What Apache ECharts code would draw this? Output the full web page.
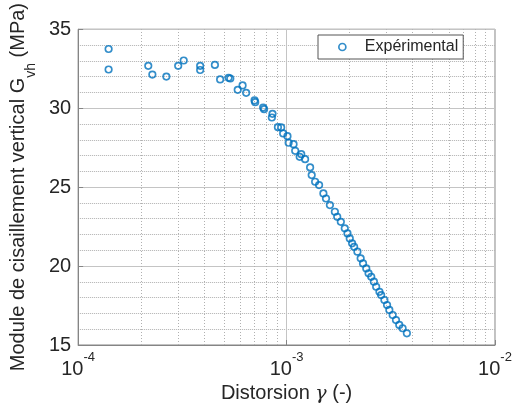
<!DOCTYPE html>
<html>
<head>
<meta charset="utf-8">
<script src="https://cdn.jsdelivr.net/npm/echarts@6/dist/echarts.min.js"></script>
<style>html,body{margin:0;padding:0;background:#fff;}#c{width:520px;height:412px;}</style>
</head>
<body>
<div id="c"></div>
<script>
// Data
const gammaValues = [
  1.40e-4, 1.40e-4, 2.17e-4, 2.27e-4, 2.65e-4, 3.02e-4, 3.21e-4, 3.85e-4, 3.85e-4, 4.53e-4,
  4.80e-4, 5.27e-4, 5.37e-4, 5.83e-4, 6.15e-4, 6.40e-4, 7.02e-4, 7.07e-4, 7.72e-4, 7.80e-4,
  8.56e-4, 8.50e-4, 9.09e-4, 9.42e-4, 9.63e-4, 1.010e-3, 1.023e-3, 1.080e-3, 1.100e-3, 1.156e-3,
  1.176e-3, 1.227e-3, 1.297e-3, 1.320e-3, 1.371e-3, 1.432e-3, 1.502e-3, 1.546e-3, 1.614e-3, 1.705e-3,
  1.750e-3, 1.821e-3, 1.902e-3, 1.960e-3, 2.010e-3, 2.063e-3, 2.109e-3, 2.187e-3, 2.267e-3, 2.327e-3,
  2.412e-3, 2.474e-3, 2.548e-3, 2.624e-3, 2.691e-3, 2.790e-3, 2.842e-3, 2.947e-3, 3.035e-3, 3.112e-3,
  3.229e-3, 3.349e-3, 3.473e-3, 3.603e-3, 3.777e-3
];
const gvhValues = [
  33.75, 32.45, 32.68, 32.13, 32.00, 32.68, 33.02, 32.68, 32.42, 32.74,
  31.82, 31.92, 31.88, 31.16, 31.44, 30.97, 30.49, 30.38, 30.04, 29.94,
  29.64, 29.41, 28.80, 28.78, 28.40, 28.23, 27.81, 27.72, 27.30, 26.92,
  27.09, 26.77, 26.25, 25.76, 25.34, 25.13, 24.60, 24.28, 23.86, 23.44,
  23.12, 22.80, 22.39, 22.07, 21.75, 21.44, 21.22, 20.91, 20.49, 20.17,
  19.85, 19.54, 19.32, 19.01, 18.69, 18.37, 18.16, 17.85, 17.53, 17.22,
  16.90, 16.58, 16.27, 16.06, 15.74
];
const seriesName = 'Expérimental';
const xTickExponents = [-4, -3, -2];
const yTickValues = [15, 20, 25, 30, 35];
const xMinorGridValues = [2e-4, 3e-4, 4e-4, 5e-4, 6e-4, 7e-4, 8e-4, 9e-4,
                          2e-3, 3e-3, 4e-3, 5e-3, 6e-3, 7e-3, 8e-3, 9e-3];
const xAxisTitle = '{n|Distorsion }{g|γ}{n| (-)}';
const yAxisTitle = '{n|Module de cisaillement vertical G}{sub|vh}{n| (MPa)}';

const points = gammaValues.map((g, i) => [g, gvhValues[i]]);
const yMin = yTickValues[0], yMax = yTickValues[yTickValues.length - 1];
const FONT = 'Liberation Sans, Arial, sans-serif';
const TXT = '#262626';
const BOX = '#858585';
const BLUE = '#0072BD';

const chart = echarts.init(document.getElementById('c'), null, {renderer: 'canvas'});
chart.setOption({
  animation: false,
  backgroundColor: '#fff',
  grid: {left: 74, right: 25, top: 29, bottom: 67, show: true, borderColor: BOX, borderWidth: 1, backgroundColor: '#fff'},
  legend: {
    data: [seriesName],
    left: 318, top: 35,
    padding: [4, 5, 4, 20],
    itemWidth: 7, itemHeight: 7,
    icon: 'circle',
    itemStyle: {color: 'transparent', borderColor: BLUE, borderWidth: 1.7},
    borderColor: '#555', borderWidth: 1, backgroundColor: '#fff',
    textStyle: {fontFamily: FONT, fontSize: 16, color: TXT, padding: [0, 0, 0, 14]}
  },
  xAxis: {
    type: 'log', logBase: 10,
    min: Math.pow(10, xTickExponents[0]), max: Math.pow(10, xTickExponents[xTickExponents.length - 1]),
    name: xAxisTitle, nameLocation: 'middle', nameGap: 38,
    nameTextStyle: {
      fontFamily: FONT, fontSize: 20, color: TXT,
      rich: {
        n: {fontFamily: FONT, fontSize: 20, color: TXT},
        g: {fontFamily: 'DejaVu Serif', fontStyle: 'italic', fontSize: 19, color: TXT}
      }
    },
    axisLine: {show: true, lineStyle: {color: BOX, width: 1}},
    axisTick: {show: true, inside: true, length: 5, lineStyle: {color: BOX}},
    axisLabel: {
      margin: 6,
      formatter: function (v) {
        const e = Math.round(Math.log10(v));
        return '{b|10}{s|' + e + '}';
      },
      rich: {
        b: {fontFamily: FONT, fontSize: 20, color: TXT, lineHeight: 28, verticalAlign: 'bottom'},
        s: {fontFamily: FONT, fontSize: 13, color: TXT, lineHeight: 28, verticalAlign: 'top'}
      }
    },
    splitLine: {show: true, lineStyle: {color: '#c4c4c4', width: 1}}
  },
  yAxis: {
    type: 'value',
    min: yMin, max: yMax, interval: 5,
    name: yAxisTitle, nameLocation: 'middle', nameGap: 33, nameRotate: 90,
    nameTextStyle: {
      fontFamily: FONT, fontSize: 20, color: TXT,
      rich: {
        n: {fontFamily: FONT, fontSize: 20, color: TXT, lineHeight: 30, verticalAlign: 'top'},
        sub: {fontFamily: FONT, fontSize: 14, color: TXT, lineHeight: 30, verticalAlign: 'bottom'}
      }
    },
    axisLine: {show: true, lineStyle: {color: BOX, width: 1}},
    axisTick: {show: true, inside: true, length: 5, lineStyle: {color: BOX}},
    axisLabel: {margin: 7, fontFamily: FONT, fontSize: 20, color: TXT},
    splitLine: {show: true, lineStyle: {color: '#c4c4c4', width: 1}},
    minorTick: {show: false, splitNumber: 5},
    minorSplitLine: {show: true, lineStyle: {color: '#b0b0b0', width: 1, type: 'dotted'}}
  },
  series: [
    {
      type: 'custom', name: 'minorgrid', silent: true, z: 1,
      data: xMinorGridValues.map(v => [v]),
      renderItem: function (params, api) {
        const v = api.value(0);
        const p1 = api.coord([v, yMin]);
        const p2 = api.coord([v, yMax]);
        return {
          type: 'line',
          shape: {x1: Math.round(p1[0]) + 0.5, y1: p1[1], x2: Math.round(p2[0]) + 0.5, y2: p2[1]},
          style: {stroke: '#b0b0b0', lineWidth: 1, lineDash: [1, 2]}
        };
      }
    },
    {
      type: 'scatter', name: seriesName, data: points, z: 5,
      symbol: 'circle', symbolSize: 6.5,
      itemStyle: {color: 'transparent', borderColor: BLUE, borderWidth: 1.7}
    }
  ]
});
</script>
</body>
</html>
